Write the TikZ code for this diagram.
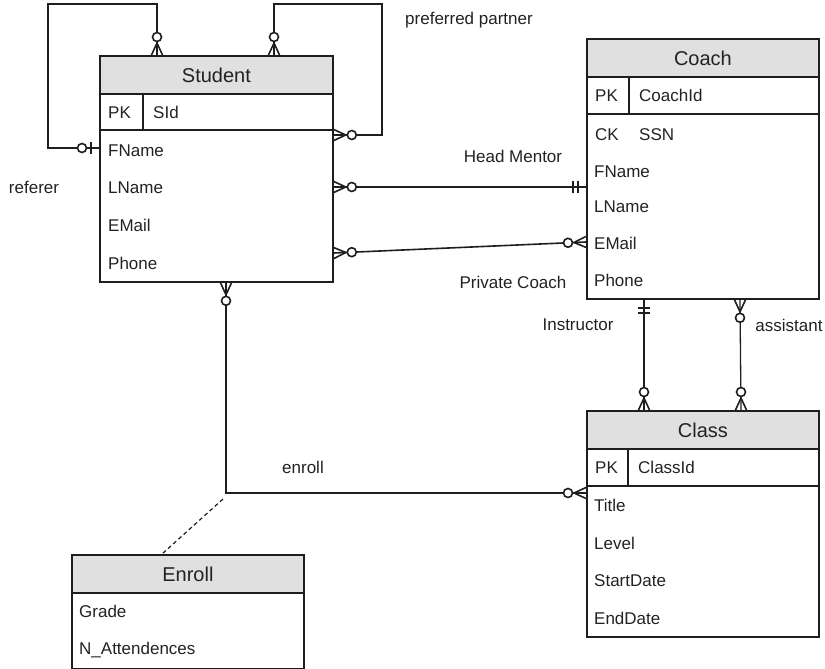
\documentclass[tikz,border=0pt]{standalone}
\usepackage{fontspec}
\setmainfont{Liberation Sans}
\usetikzlibrary{calc}
\definecolor{ln}{HTML}{1E1E1E}
\definecolor{hd}{HTML}{E0E0E0}
\definecolor{tx}{HTML}{222222}
\begin{document}
\begin{tikzpicture}[x=1pt,y=-1pt,
  box/.style={draw=ln,line width=1.8pt,inner sep=0pt,anchor=north west},
  hdr/.style={box,fill=hd,font=\fontsize{20}{24}\selectfont,text=tx},
  fld/.style={anchor=base west,inner sep=0pt,font=\fontsize{17}{20}\selectfont,text=tx},
  lbl/.style={inner sep=0pt,font=\fontsize{17}{20}\selectfont,text=tx},
  con/.style={draw=ln,line width=1.6pt},
  thin/.style={draw=ln,line width=1.3pt},
  sep/.style={draw=ln,line width=1.8pt},
  pics/zmany/.style={code={
     \draw[con] (12,0) -- (0,5.5) (12,0) -- (0,-5.5);
     \draw[con,fill=white] (18,0) circle[radius=4.5];}},
  pics/zone/.style={code={
     \draw[con] (8,-6) -- (8,6);
     \draw[con,fill=white] (17,0) circle[radius=4.5];}},
  pics/oneone/.style={code={
     \draw[con] (8,-6) -- (8,6) (13,-6) -- (13,6);}}
]
\useasboundingbox (0,0) rectangle (825,669);

% ---------- Student ----------
\node[box,minimum width=233pt,minimum height=226pt] (student) at (99,55) {};
\node[hdr,minimum width=233pt,minimum height=38pt] (studentH) at (99,55) {Student};
\draw[sep] (99,130) -- (332,130) (143,93) -- (143,130);
\node[fld] (sPK) at (108,118) {PK};
\node[fld] (sId) at (153,118) {SId};
\node[fld] (sF) at (108,156) {FName};
\node[fld] (sL) at (108,193) {LName};
\node[fld] (sE) at (108,231) {EMail};
\node[fld] (sP) at (108,269) {Phone};

% ---------- Coach ----------
\node[box,minimum width=232pt,minimum height=260pt] (coach) at (586,38) {};
\node[hdr,minimum width=232pt,minimum height=38pt] (coachH) at (586,38) {Coach};
\draw[sep] (586,114) -- (818,114) (629,76) -- (629,114);
\node[fld] (cPK) at (595,102) {PK};
\node[fld] (cId) at (639,102) {CoachId};
\node[fld] (cCK) at (595,140) {CK};
\node[fld] (cSSN) at (639,140) {SSN};
\node[fld] (cF) at (594,177) {FName};
\node[fld] (cL) at (594,212) {LName};
\node[fld] (cE) at (594,249) {EMail};
\node[fld] (cP) at (594,286) {Phone};

% ---------- Class ----------
\node[box,minimum width=232pt,minimum height=226pt] (class) at (586,410) {};
\node[hdr,minimum width=232pt,minimum height=38pt] (classH) at (586,410) {Class};
\draw[sep] (586,486) -- (818,486) (628,448) -- (628,486);
\node[fld] (kPK) at (595,473) {PK};
\node[fld] (kId) at (638,473) {ClassId};
\node[fld] (kT) at (594,511) {Title};
\node[fld] (kL) at (594,549) {Level};
\node[fld] (kS) at (594,586) {StartDate};
\node[fld] (kE) at (594,624) {EndDate};

% ---------- Enroll ----------
\node[box,minimum width=232pt,minimum height=114pt] (enroll) at (71,554) {};
\node[hdr,minimum width=232pt,minimum height=38pt] (enrollH) at (71,554) {Enroll};
\node[fld] (eG) at (79,617) {Grade};
\node[fld] (eN) at (79,654) {N\_Attendences};

% ---------- connectors ----------
% referer (self loop)
\draw[con] (157,0 |- student.north) -- (157,4) -- (48,4) -- (48,148) -- (student.west |- 0,148);
\pic[rotate=90] at (157,0 |- student.north) {zmany};
\pic[rotate=180] at (student.west |- 0,148) {zone};
% preferred partner (self loop)
\draw[con] (274,0 |- student.north) -- (274,4) -- (382,4) -- (382,135) -- (student.east |- 0,135);
\pic[rotate=90] at (274,0 |- student.north) {zmany};
\pic[rotate=0] at (student.east |- 0,135) {zmany};
% Head Mentor
\draw[con] (student.east |- 0,187) -- (coach.west |- 0,187);
\pic[rotate=0] at (student.east |- 0,187) {zmany};
\pic[rotate=180] at (coach.west |- 0,187) {oneone};
% Private Coach
\draw[con] (student.east |- 0,253) -- (coach.west |- 0,242);
\pic[rotate=2.5] at (student.east |- 0,253) {zmany};
\pic[rotate=182.5] at (coach.west |- 0,242) {zmany};
% Instructor
\draw[thin] (644,0 |- coach.south) -- (644,0 |- class.north);
\pic[rotate=-90] at (644,0 |- coach.south) {oneone};
\pic[rotate=90] at (644,0 |- class.north) {zmany};
% assistant
\draw[thin] (740,0 |- coach.south) -- (741,0 |- class.north);
\pic[rotate=-90] at (740,0 |- coach.south) {zmany};
\pic[rotate=90] at (741,0 |- class.north) {zmany};
% enroll
\coordinate (bend) at (226,493);
\draw[con] (226,0 |- student.south) -- (bend) -- (class.west |- bend);
\pic[rotate=-90] at (226,0 |- student.south) {zmany};
\pic[rotate=180] at (class.west |- bend) {zmany};
% association class
\draw[con,line width=1.2pt,dashed,dash pattern=on 4pt off 3pt] (223,499) -- (162,0 |- enroll.north);

% ---------- labels ----------
\node[lbl] (lPref) at (469,20) {preferred partner};
\node[lbl] (lRef) at (34,187) {referer};
\node[lbl] (lHead) at (513,156) {Head Mentor};
\node[lbl] (lPriv) at (513,282) {Private Coach};
\node[lbl] (lInst) at (578,325) {Instructor};
\node[lbl] (lAss) at (789,325) {assistant};
\node[lbl] (lEnr) at (303,467) {enroll};
\end{tikzpicture}
\end{document}
